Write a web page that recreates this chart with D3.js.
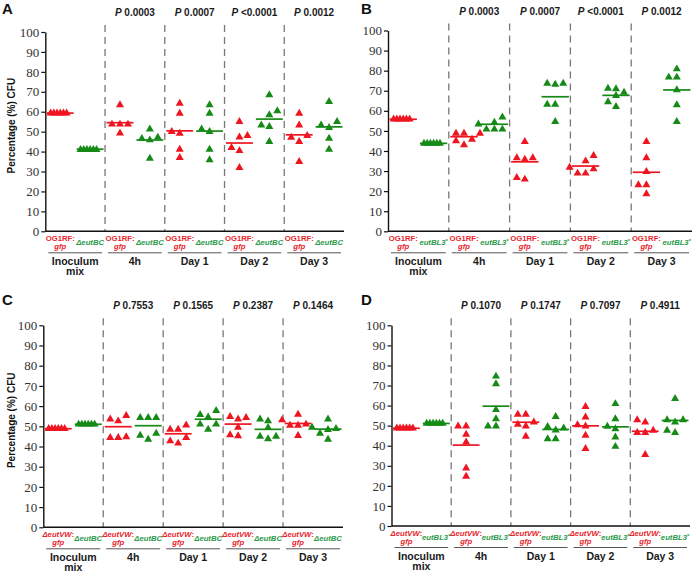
<!DOCTYPE html>
<html lang="en">
<head>
<meta charset="UTF-8">
<title>Competition CFU scatter</title>
<style>
  body { margin: 0; background: #fff; }
  svg { display: block; }
  .axis .domain { stroke: #111; stroke-width: 1.4px; }
  .axis .tick line { stroke: #111; stroke-width: 1.2px; }
  .axis .tick text { font-family: "Liberation Serif", serif; font-size: 13px; fill: #333; }
  .sep { stroke: #777; stroke-width: 1.3px; stroke-dasharray: 7 5; }
  .xline { stroke: #111; stroke-width: 1.4px; }
  .under { stroke: #555; stroke-width: 1px; }
  .strain { font-family: "Liberation Sans", Arial, sans-serif; font-size: 7.7px; font-weight: bold; }
  .sect { font-family: "Liberation Sans", Arial, sans-serif; font-size: 10.5px; font-weight: bold; fill: #1a1a1a; }
  .pval { font-family: "Liberation Sans", Arial, sans-serif; font-size: 10px; font-weight: bold; fill: #1a1a1a; }
  .letter { font-family: "Liberation Sans", Arial, sans-serif; font-size: 15px; font-weight: bold; fill: #111; }
  .ytitle { font-family: "Liberation Sans", Arial, sans-serif; font-size: 10px; font-weight: bold; fill: #111; }
</style>
</head>
<body>
<script src="https://cdn.jsdelivr.net/npm/d3@7"></script>
<script>
// categories
const sections = ["Inoculum mix", "4h", "Day 1", "Day 2", "Day 3"];
const sectionLines = [["Inoculum", "mix"], ["4h"], ["Day 1"], ["Day 2"], ["Day 3"]];
const strains = ["ref", "mut"];
const yTicks = [0, 10, 20, 30, 40, 50, 60, 70, 80, 90, 100];

// panel A: OG1RF:gfp vs deltaeutBC
const aRef = [
  [59.3, 59.3, 59.3, 59.3, 59.3, 59.3],
  [63.4, 53.7, 53.7, 53.7, 49.2],
  [64.2, 59.2, 50.0, 49.1, 41.1, 36.9],
  [55.0, 47.2, 48.0, 42.0, 40.4, 31.9],
  [59.2, 53.3, 47.1, 48.0, 45.0, 34.9]
];
const aMut = [
  [41.0, 41.0, 41.0, 41.0, 41.0, 41.0],
  [51.2, 46.5, 45.8, 47.1, 36.6],
  [63.4, 59.2, 51.2, 50.0, 41.1, 35.8],
  [68.4, 60.4, 58.4, 53.3, 52.5, 45.0],
  [65.0, 55.0, 53.3, 52.0, 46.6, 41.1]
];
const aRefMed = [59.3, 54.5, 50.4, 44.3, 48.4];
const aMutMed = [41.2, 45.8, 50.3, 56.3, 52.4];
const aP = ["0.0003", "0.0007", "<0.0001", "0.0012"];

// panel B: OG1RF:gfp vs eutBL3*
const bRef = [
  [55.8, 55.8, 55.8, 55.8, 55.8, 55.8],
  [48.8, 48.8, 48.8, 45.8, 45.0, 43.0],
  [44.6, 36.5, 35.8, 36.5, 25.9, 26.7],
  [37.7, 35.0, 31.0, 31.8, 28.9, 28.9],
  [44.6, 36.5, 29.7, 23.1, 23.1, 18.6]
];
const bMut = [
  [43.8, 43.8, 43.8, 43.8, 43.8, 43.8],
  [56.8, 54.2, 53.4, 50.8, 50.8, 50.8],
  [73.7, 73.2, 73.7, 63.2, 63.2, 54.6],
  [71.2, 69.2, 67.5, 70.9, 64.4, 62.1],
  [76.7, 76.7, 80.8, 70.4, 62.9, 54.6]
];
const bRefMed = [55.8, 47.1, 34.6, 32.5, 29.4];
const bMutMed = [43.8, 53.3, 67.0, 67.7, 70.4];
const bP = ["0.0003", "0.0007", "<0.0001", "0.0012"];

// panel C: deltaeutVW:gfp vs deltaeutBC
const cRef = [
  [48.8, 48.8, 48.8, 48.8, 48.8, 48.8],
  [53.5, 52.6, 55.3, 44.4, 44.4, 44.7],
  [48.5, 48.5, 50.6, 44.4, 41.6, 42.7],
  [54.3, 53.5, 54.8, 49.5, 45.2, 45.7],
  [55.9, 51.0, 53.1, 50.4, 50.4, 45.4]
];
const cMut = [
  [51.0, 51.0, 51.0, 51.0, 51.0, 51.0],
  [54.3, 54.3, 54.3, 46.5, 43.5, 45.5],
  [55.8, 54.5, 57.7, 51.0, 48.5, 51.0],
  [52.6, 53.5, 49.3, 45.0, 43.8, 45.0],
  [53.5, 49.5, 48.3, 48.8, 46.5, 43.5]
];
const cRefMed = [48.8, 49.8, 46.3, 51.1, 51.4];
const cMutMed = [51.0, 50.3, 53.5, 48.5, 48.6];
const cP = ["0.7553", "0.1565", "0.2387", "0.1464"];

// panel D: deltaeutVW:gfp vs eutBL3*
const dRef = [
  [48.7, 48.7, 48.7, 48.7, 48.7, 48.7],
  [45.6, 49.7, 49.7, 41.8, 28.8, 24.7],
  [50.6, 55.6, 55.6, 49.7, 51.7, 44.6],
  [59.5, 54.2, 49.7, 50.4, 45.1, 38.5],
  [46.5, 46.5, 51.7, 52.9, 47.6, 35.5]
];
const dMut = [
  [51.1, 51.1, 51.1, 51.1, 51.1, 51.1],
  [70.8, 74.6, 57.9, 53.4, 49.7, 49.7],
  [54.5, 49.5, 48.8, 47.8, 43.4, 43.4],
  [60.9, 53.4, 48.4, 49.6, 44.3, 39.6],
  [63.4, 52.9, 51.7, 52.9, 46.5, 47.6]
];
const dRefMed = [48.7, 40.3, 51.7, 49.9, 47.2];
const dMutMed = [51.1, 59.7, 48.1, 49.4, 52.6];
const dP = ["0.1070", "0.1747", "0.7097", "0.4911"];

// strain labels: [text, italic, superscript]
const refWT = [[["OG1RF:", false]], [["gfp", true]]];
const refVW = [[["\u0394eutVW", true], [":", false]], [["gfp", true]]];
const mutBC = [["\u0394eutBC", true]];
const mutBL = [["eutBL3", true], ["*", false, true]];

const color = { ref: "#ee1520", mut: "#168a16" };
const textColor = { ref: "#e8232b", mut: "#2c9a4c" };

const panels = [
  { letter: "A", lx: 2, ly: 13.5, ref: aRef, mut: aMut, refMed: aRefMed, mutMed: aMutMed, p: aP,
    refName: refWT, mutName: mutBC, x0: 45.3, x1: 344, y0: 231.3, y1: 32, title: true },
  { letter: "B", lx: 361, ly: 14, ref: bRef, mut: bMut, refMed: bRefMed, mutMed: bMutMed, p: bP,
    refName: refWT, mutName: mutBL, x0: 388, x1: 692, y0: 231.3, y1: 30.5, title: false },
  { letter: "C", lx: 2, ly: 305, ref: cRef, mut: cMut, refMed: cRefMed, mutMed: cMutMed, p: cP,
    refName: refVW, mutName: mutBC, x0: 43.3, x1: 343, y0: 527.3, y1: 325.3, title: true },
  { letter: "D", lx: 361, ly: 305, ref: dRef, mut: dMut, refMed: dRefMed, mutMed: dMutMed, p: dP,
    refName: refVW, mutName: mutBL, x0: 391.5, x1: 690, y0: 526, y1: 325.3, title: false }
];

const svg = d3.select("body").append("svg")
  .attr("width", 696)
  .attr("height", 576);

svg.append("rect").attr("width", 696).attr("height", 576).attr("fill", "#fff");

const tri = d3.symbol().type(d3.symbolTriangle).size(28);

// simple column-scatter spread: ascending order, center first, then alternate sides
function dodge(vals, y) {
  const pts = vals.map(v => ({ v, py: y(v) })).sort((a, b) => a.v - b.v);
  const placed = [];
  let side = -1;
  pts.forEach(p => {
    const free = l => placed.every(q => q.lane !== l || Math.abs(q.py - p.py) >= 6.5);
    let lane = 0;
    if (!free(0)) {
      for (let k = 1; k < 10; k++) {
        if (free(side * k)) { lane = side * k; break; }
        if (free(-side * k)) { lane = -side * k; break; }
      }
      side = -side;
    }
    p.lane = lane;
    placed.push(p);
  });
  return pts;
}

function segText(g, x, y, segs, fill) {
  const t = g.append("text")
    .attr("class", "strain")
    .attr("x", x).attr("y", y)
    .attr("text-anchor", "middle")
    .attr("fill", fill);
  segs.forEach(([s, it, sup]) => {
    const ts = t.append("tspan").text(s).attr("font-style", it ? "italic" : "normal");
    if (sup) ts.attr("dy", -2.5).attr("font-size", "6px");
  });
}

panels.forEach(p => {
  const g = svg.append("g");
  const y = d3.scaleLinear().domain([0, 100]).range([p.y0, p.y1]);
  const xs = d3.scaleBand().domain(sections).range([p.x0, p.x1]);
  const xk = d3.scaleBand().domain(strains).range([0, xs.bandwidth()]);
  const cx = (s, k) => xs(s) + xk(k) + xk.bandwidth() / 2;

  // panel letter
  g.append("text").attr("class", "letter").attr("x", p.lx).attr("y", p.ly).text(p.letter);

  // dashed separators
  g.selectAll(".sep")
    .data(sections.slice(1))
    .join("line")
    .attr("class", "sep")
    .attr("x1", d => xs(d)).attr("x2", d => xs(d))
    .attr("y1", p.y1 - 7).attr("y2", p.y0);

  // p values
  const pt = g.selectAll(".pval")
    .data(p.p)
    .join("text")
    .attr("class", "pval")
    .attr("x", (d, i) => xs(sections[i + 1]) + xs.bandwidth() / 2)
    .attr("y", p.y1 - 16)
    .attr("text-anchor", "middle");
  pt.append("tspan").attr("font-style", "italic").text("P");
  pt.append("tspan").text(d => " " + d);

  // axes
  g.append("g")
    .attr("class", "axis")
    .attr("transform", `translate(${p.x0},0)`)
    .call(d3.axisLeft(y).tickValues(yTicks).tickSize(4).tickPadding(2).tickSizeOuter(0));
  g.append("line").attr("class", "xline")
    .attr("x1", p.x0).attr("x2", p.x1)
    .attr("y1", p.y0).attr("y2", p.y0);

  if (p.title) {
    g.append("text")
      .attr("class", "ytitle")
      .attr("transform", `translate(14.5,${(p.y0 + p.y1) / 2 - 6}) rotate(-90)`)
      .attr("text-anchor", "middle")
      .text("Percentage (%) CFU");
  }

  // points and median lines
  sections.forEach((s, i) => {
    strains.forEach(k => {
      const spacing = i === 0 ? 3.2 : 8;
      const pts = dodge(p[k][i], y);
      const c = cx(s, k);
      g.selectAll(null)
        .data(pts)
        .join("path")
        .attr("d", tri)
        .attr("fill", color[k])
        .attr("transform", d => `translate(${c + d.lane * spacing},${y(d.v)})`);
      const m = p[k + "Med"][i];
      const w = xk.bandwidth() * 0.9;
      g.append("line")
        .attr("x1", c - w / 2).attr("x2", c + w / 2)
        .attr("y1", y(m)).attr("y2", y(m))
        .attr("stroke", color[k]).attr("stroke-width", 1.7);
    });

    // strain labels
    const b = p.y0;
    segText(g, cx(s, "ref"), b + 10, p.refName[0], textColor.ref);
    segText(g, cx(s, "ref"), b + 17.5, p.refName[1], textColor.ref);
    segText(g, cx(s, "mut"), b + 14, p.mutName, textColor.mut);

    g.append("line").attr("class", "under")
      .attr("x1", xs(s) + 3).attr("x2", xs(s) + xs.bandwidth() - 3)
      .attr("y1", b + 21.5).attr("y2", b + 21.5);

    g.selectAll(null)
      .data(sectionLines[i])
      .join("text")
      .attr("class", "sect")
      .attr("x", xs(s) + xs.bandwidth() / 2)
      .attr("y", (d, j) => b + 33.5 + j * 10.5)
      .attr("text-anchor", "middle")
      .text(d => d);
  });
});
</script>
</body>
</html>
